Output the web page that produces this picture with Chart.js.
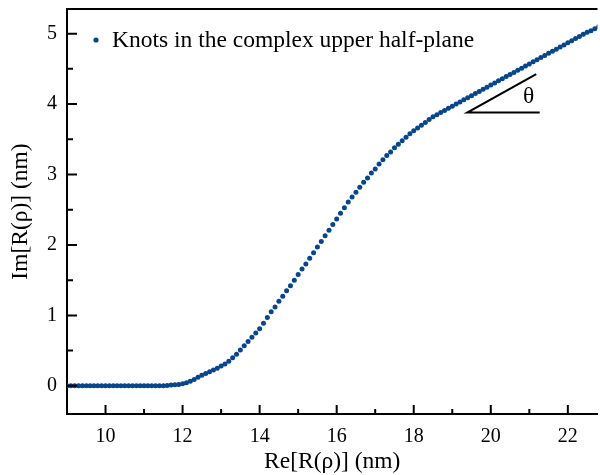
<!DOCTYPE html>
<html>
<head>
<meta charset="utf-8">
<script src="https://cdn.jsdelivr.net/npm/chart.js@4"></script>
<style>
  html, body { margin: 0; padding: 0; background: #fff; }
  #wrap { width: 600px; height: 475px; }
</style>
</head>
<body>
<div id="wrap"><canvas id="knots"></canvas></div>
<script>
// Re[R(rho)] of the knots (nm)
let reX = [
  9.0, 9.1, 9.2, 9.3, 9.4, 9.5, 9.6, 9.7, 9.8, 9.9,
  10.0, 10.1, 10.2, 10.3, 10.4, 10.5, 10.6, 10.7, 10.8, 10.9,
  11.0, 11.1, 11.2, 11.3, 11.4, 11.5, 11.6, 11.7, 11.8, 11.9,
  12.0, 12.1, 12.2, 12.3, 12.4, 12.5, 12.6, 12.7, 12.8, 12.9,
  13.0, 13.1, 13.2, 13.3, 13.4, 13.5, 13.6, 13.7, 13.8, 13.9,
  14.0, 14.1, 14.2, 14.3, 14.4, 14.5, 14.6, 14.7, 14.8, 14.9,
  15.0, 15.1, 15.2, 15.3, 15.4, 15.5, 15.6, 15.7, 15.8, 15.9,
  16.0, 16.1, 16.2, 16.3, 16.4, 16.5, 16.6, 16.7, 16.8, 16.9,
  17.0, 17.1, 17.2, 17.3, 17.4, 17.5, 17.6, 17.7, 17.8, 17.9,
  18.0, 18.1, 18.2, 18.3, 18.4, 18.5, 18.6, 18.7, 18.8, 18.9,
  19.0, 19.1, 19.2, 19.3, 19.4, 19.5, 19.6, 19.7, 19.8, 19.9,
  20.0, 20.1, 20.2, 20.3, 20.4, 20.5, 20.6, 20.7, 20.8, 20.9,
  21.0, 21.1, 21.2, 21.3, 21.4, 21.5, 21.6, 21.7, 21.8, 21.9,
  22.0, 22.1, 22.2, 22.3, 22.4, 22.5, 22.6, 22.7, 22.8
];
// Im[R(rho)] of the knots (nm)
let imY = [
  0, 0, 0, 0, 0, 0, 0, 0, 0, 0,
  0, 0, 0, 0, 0, 0, 0, 0, 0, 0,
  0, 0, 0, 0, 0, 0, 0.005, 0.01, 0.015, 0.02,
  0.03, 0.045, 0.065, 0.09, 0.12, 0.15, 0.175, 0.2, 0.225, 0.25,
  0.28, 0.31, 0.35, 0.4, 0.45, 0.51, 0.57, 0.63, 0.69, 0.75,
  0.81, 0.89, 0.97, 1.05, 1.12, 1.2, 1.27, 1.35, 1.42, 1.5,
  1.58, 1.66, 1.73, 1.81, 1.89, 1.97, 2.05, 2.13, 2.21, 2.29,
  2.37, 2.45, 2.53, 2.61, 2.68, 2.75, 2.82, 2.89, 2.95, 3.02,
  3.08, 3.15, 3.21, 3.27, 3.32, 3.38, 3.43, 3.48, 3.53, 3.58,
  3.62, 3.66, 3.7, 3.74, 3.78, 3.82, 3.85, 3.88, 3.91, 3.94,
  3.97, 4.0, 4.03, 4.06, 4.09, 4.12, 4.15, 4.18, 4.21, 4.24,
  4.27, 4.3, 4.33, 4.36, 4.39, 4.42, 4.45, 4.48, 4.51, 4.54,
  4.57, 4.6, 4.63, 4.66, 4.69, 4.72, 4.75, 4.78, 4.81, 4.84,
  4.87, 4.9, 4.93, 4.96, 4.99, 5.02, 5.04, 5.07, 5.1
];

// slope triangle (data units) and its label
let triX = [21.18, 19.39, 21.27];
let triY = [4.425, 3.88, 3.88];
let thetaPos = { x: 20.98, y: 4.1 };

let xMajor = [10, 12, 14, 16, 18, 20, 22];
let xMinor = [9, 11, 13, 15, 17, 19, 21];
let yMajor = [0, 1, 2, 3, 4, 5];
let yMinor = [0.5, 1.5, 2.5, 3.5, 4.5];

let legendLabel = "Knots in the complex upper half-plane";
let blue = "#07468c";
let serif = "'Liberation Serif', 'DejaVu Serif', serif";

let knots = reX.map((x, i) => ({ x: x, y: imY[i] }));
let triangle = triX.map((x, i) => ({ x: x, y: triY[i] }));

//top frame, inward ticks, legend and theta label
let decorations = {
  id: "decorations",
  afterDraw(chart) {
    let ctx = chart.ctx;
    let area = chart.chartArea;
    let xs = chart.scales.x;
    let ys = chart.scales.y;

    ctx.save();
    ctx.strokeStyle = "#000";
    ctx.lineWidth = 2;
    ctx.beginPath();
    ctx.moveTo(area.left, area.top);
    ctx.lineTo(area.right, area.top);
    ctx.stroke();

    ctx.beginPath();
    xMajor.forEach((v) => {
      let px = xs.getPixelForValue(v);
      ctx.moveTo(px, area.bottom);
      ctx.lineTo(px, area.bottom - 9);
    });
    xMinor.forEach((v) => {
      let px = xs.getPixelForValue(v);
      ctx.moveTo(px, area.bottom);
      ctx.lineTo(px, area.bottom - 5);
    });
    yMajor.forEach((v) => {
      let py = ys.getPixelForValue(v);
      ctx.moveTo(area.left, py);
      ctx.lineTo(area.left + 10, py);
    });
    yMinor.forEach((v) => {
      let py = ys.getPixelForValue(v);
      ctx.moveTo(area.left, py);
      ctx.lineTo(area.left + 6, py);
    });
    ctx.stroke();

    // legend inside the plot
    ctx.fillStyle = blue;
    ctx.beginPath();
    ctx.arc(area.left + 29, area.top + 31, 2.6, 0, Math.PI * 2);
    ctx.fill();
    ctx.fillStyle = "#000";
    ctx.font = "23.5px " + serif;
    ctx.textBaseline = "middle";
    ctx.textAlign = "left";
    ctx.fillText(legendLabel, area.left + 45, area.top + 32);

    ctx.textAlign = "center";
    ctx.fillText("θ", xs.getPixelForValue(thetaPos.x), ys.getPixelForValue(thetaPos.y));
    ctx.restore();
  },
};

function noScalePadding(scale) {
  scale.paddingTop = 0;
  scale.paddingBottom = 0;
  scale.paddingLeft = 0;
  scale.paddingRight = 0;
}

new Chart(document.getElementById("knots"), {
  type: "scatter",
  data: {
    datasets: [
      {
        label: legendLabel,
        data: knots,
        backgroundColor: blue,
        borderWidth: 0,
        pointRadius: 2.5,
        pointHoverRadius: 2.5,
      },
      {
        label: "theta",
        type: "line",
        data: triangle,
        showLine: true,
        borderColor: "#000",
        borderWidth: 2,
        pointRadius: 0,
        fill: false,
      },
    ],
  },
  options: {
    responsive: true,
    maintainAspectRatio: false,
    animation: false,
    layout: { padding: { top: 9, right: 0, left: 0, bottom: 0 } },
    plugins: {
      legend: { display: false },
      tooltip: { enabled: false },
    },
    scales: {
      x: {
        type: "linear",
        min: 9,
        max: 22.77,
        grid: { display: false, drawTicks: false },
        border: { display: true, color: "#000", width: 2 },
        afterBuildTicks: (scale) => {
          scale.ticks = xMajor.map((v) => ({ value: v }));
        },
        afterFit: (scale) => {
          scale.height = 61;
          noScalePadding(scale);
        },
        ticks: {
          color: "#000",
          padding: 11,
          maxRotation: 0,
          font: { family: serif, size: 20 },
        },
        title: {
          display: true,
          text: "Re[R(ρ)] (nm)",
          color: "#000",
          padding: { top: 0, bottom: 1 },
          font: { family: serif, size: 23.5, lineHeight: 1 },
        },
      },
      y: {
        type: "linear",
        min: -0.4,
        max: 5.35,
        grid: { display: false, drawTicks: false },
        border: { display: true, color: "#000", width: 2 },
        afterBuildTicks: (scale) => {
          scale.ticks = yMajor.map((v) => ({ value: v }));
        },
        afterFit: (scale) => {
          scale.width = 67;
          noScalePadding(scale);
        },
        ticks: {
          color: "#000",
          padding: 10,
          font: { family: serif, size: 20 },
        },
        title: {
          display: true,
          text: "Im[R(ρ)] (nm)",
          color: "#000",
          padding: { top: 9, bottom: 0 },
          font: { family: serif, size: 23.5, lineHeight: 1 },
        },
      },
    },
  },
  plugins: [decorations],
});
</script>
</body>
</html>
